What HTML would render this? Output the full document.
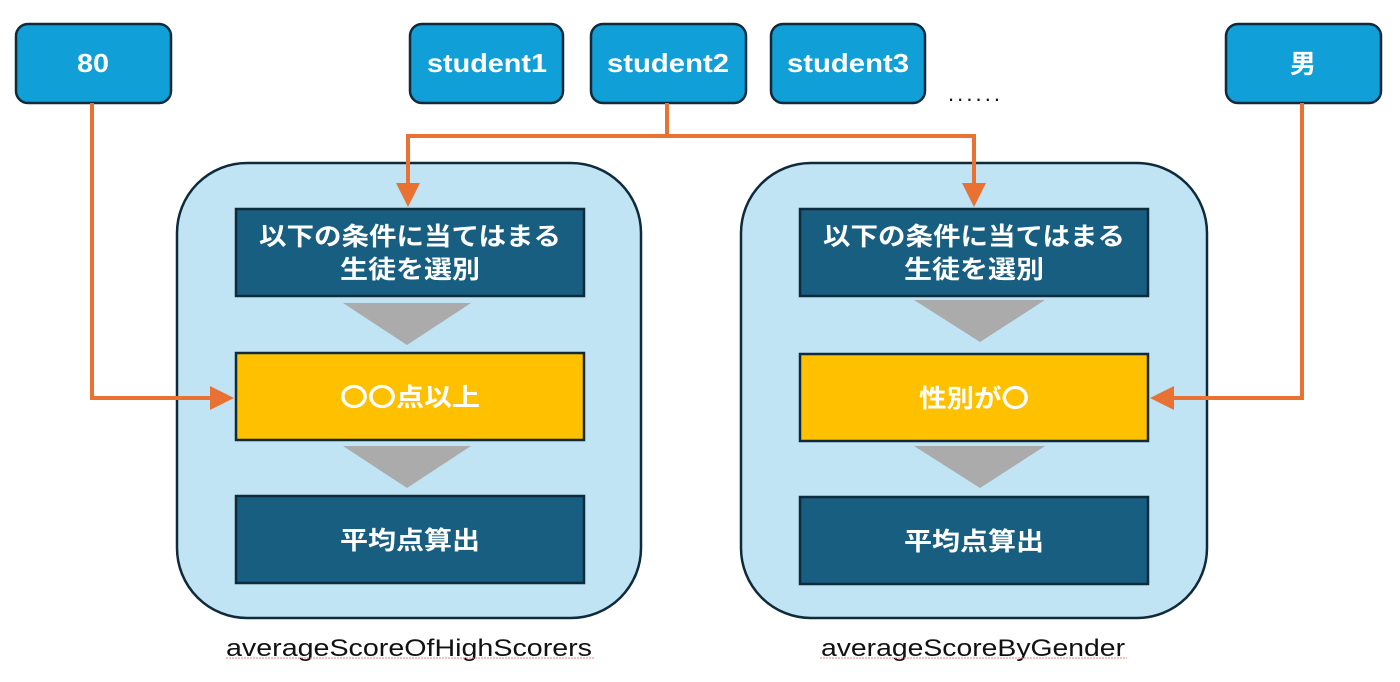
<!DOCTYPE html>
<html><head><meta charset="utf-8"><style>
html,body{margin:0;padding:0;background:#fff;width:1400px;height:682px;overflow:hidden}
svg{display:block}
.t{font-family:"Liberation Sans","Noto Sans CJK JP",sans-serif;font-weight:bold;fill:#fff}
.j{font-family:"Noto Sans CJK JP","Liberation Sans",sans-serif;font-weight:bold;fill:#fff}
.l{font-family:"Liberation Sans","Noto Sans CJK JP",sans-serif;fill:#111}
</style></head><body>
<svg width="1400" height="682" viewBox="0 0 1400 682" xmlns="http://www.w3.org/2000/svg">
<defs>
<marker id="a" markerWidth="6" markerHeight="6" refX="5" refY="3" orient="auto" markerUnits="strokeWidth">
<path d="M0,0 L6,3 L0,6 z" fill="#E97132"/></marker>
</defs>
<g stroke="#0e2a3b" stroke-width="2.5" fill="#109fd6">
<rect x="16" y="24" width="155" height="79" rx="12"/>
<rect x="410" y="24" width="153" height="79" rx="12"/>
<rect x="591" y="24" width="155" height="79" rx="12"/>
<rect x="771" y="24" width="154" height="79" rx="12"/>
<rect x="1226" y="24" width="155" height="79" rx="12"/>
</g>
<g class="t" font-size="26" text-anchor="middle">
<text x="93" y="72" textLength="32" lengthAdjust="spacingAndGlyphs">80</text>
<text x="487" y="72" textLength="120" lengthAdjust="spacingAndGlyphs">student1</text>
<text x="668" y="72" textLength="122" lengthAdjust="spacingAndGlyphs">student2</text>
<text x="848" y="72" textLength="122" lengthAdjust="spacingAndGlyphs">student3</text>
<text x="1303" y="73" class="j">男</text>
</g>
<text x="948" y="101" font-family="Liberation Sans,sans-serif" font-size="22" fill="#111" textLength="52">......</text>
<g stroke="#0e2a3b" stroke-width="2.5" fill="#c0e4f4">
<rect x="177" y="163" width="464" height="455" rx="70"/>
<rect x="741" y="163" width="466" height="455" rx="70"/>
</g>
<g stroke="#0e2a3b" stroke-width="2.5">
<rect x="236" y="209" width="348" height="87" fill="#175e81"/>
<rect x="236" y="353" width="348" height="87" fill="#ffc000"/>
<rect x="236" y="496" width="348" height="87" fill="#175e81"/>
<rect x="800" y="209" width="348" height="87" fill="#175e81"/>
<rect x="800" y="354" width="348" height="87" fill="#ffc000"/>
<rect x="800" y="497" width="348" height="87" fill="#175e81"/>
</g>
<g fill="#ababab">
<polygon points="343,303 471,303 407,345"/>
<polygon points="343,446 471,446 407,488"/>
<polygon points="914,300 1045,300 980,342"/>
<polygon points="914,446 1045,446 980,488"/>
</g>
<g class="j" font-size="25" text-anchor="middle">
<text x="410" y="245" textLength="302" lengthAdjust="spacingAndGlyphs">以下の条件に当てはまる</text>
<text x="410" y="278" textLength="140" lengthAdjust="spacingAndGlyphs">生徒を選別</text>
<text x="410" y="406" textLength="140" lengthAdjust="spacingAndGlyphs">〇〇点以上</text>
<text x="410" y="549" textLength="140" lengthAdjust="spacingAndGlyphs">平均点算出</text>
<text x="974" y="245" textLength="302" lengthAdjust="spacingAndGlyphs">以下の条件に当てはまる</text>
<text x="974" y="278" textLength="140" lengthAdjust="spacingAndGlyphs">生徒を選別</text>
<text x="974" y="407" textLength="110" lengthAdjust="spacingAndGlyphs">性別が〇</text>
<text x="974" y="550" textLength="140" lengthAdjust="spacingAndGlyphs">平均点算出</text>
</g>
<g stroke="#E97132" stroke-width="4" fill="none">
<polyline points="92,103 92,398 230,398" marker-end="url(#a)"/>
<polyline points="667,103 667,136"/>
<polyline points="667,136 408,136 408,203" marker-end="url(#a)"/>
<polyline points="667,136 974,136 974,203" marker-end="url(#a)"/>
<polyline points="1302,103 1302,398 1154,398" marker-end="url(#a)"/>
</g>
<text class="l" x="226" y="656" font-size="24" textLength="366" lengthAdjust="spacingAndGlyphs">averageScoreOfHighScorers</text>
<text class="l" x="821" y="656" font-size="24" textLength="304" lengthAdjust="spacingAndGlyphs">averageScoreByGender</text>
<g stroke="#f08080" stroke-width="1" stroke-dasharray="2,1">
<line x1="226" y1="658" x2="594" y2="658"/>
<line x1="820" y1="658" x2="1127" y2="658"/>
</g>
</svg>
</body></html>
